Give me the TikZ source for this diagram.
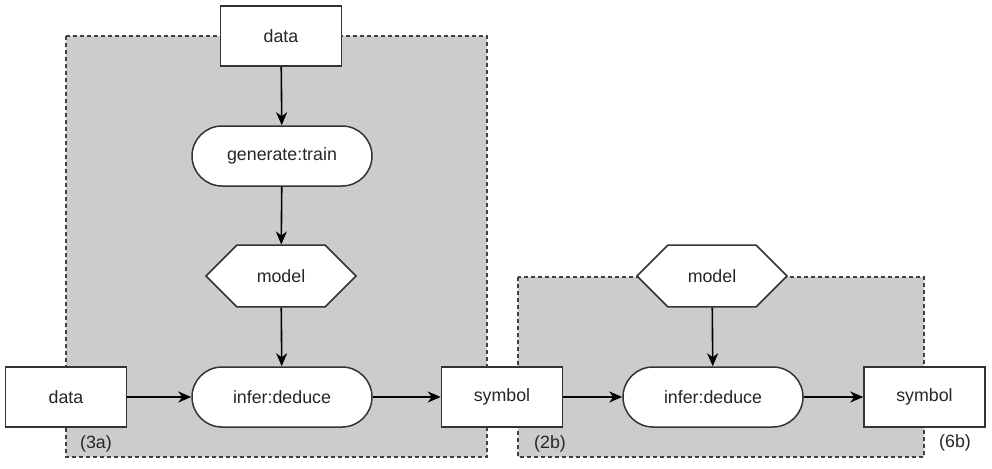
\documentclass[tikz,border=0pt]{standalone}
\usepackage{fontspec}
\setmainfont{Liberation Sans}
\usetikzlibrary{arrows.meta, positioning, shapes.misc}

\begin{document}
\begin{tikzpicture}[x=1pt, y=-1pt,
		every node/.style={font=\fontsize{17.8}{20}\selectfont, text=black!85},
		group/.style={draw=black!75, fill=black!20, dash pattern=on 4pt off 3pt, line width=1.3pt},
		blk/.style={draw=black!80, fill=white, line width=1.5pt, minimum width=121pt, minimum height=60pt, inner sep=0pt},
		proc/.style={blk, rounded corners=30pt, minimum width=180pt},
		mdl/.style={blk, chamfered rectangle, chamfered rectangle xsep=29pt, chamfered rectangle ysep=30pt, minimum width=150pt},
		flow/.style={draw=black, line width=1.6pt, -{Stealth[length=13pt, width=11pt, inset=4pt]}}]
		\useasboundingbox (0,0) rectangle (992,468);

		%groups:
		\draw[group] (66,36) rectangle (487,457);
		\draw[group] (518,277) rectangle (924,457);
		\node (tagA) at (96,444) {(3a)};
		\node (tagB) at (550,444) {(2b)};
		\node (tagC) at (955,443) {(6b)};

		%training part
		\node[blk] (dataT) at (281,36) {data};
		\node[proc] (train) at (282,156) {generate:train};
		\node[mdl] (modelA) at (281,276) {model};
		\node[proc] (inferA) at (282,397) {infer:deduce};
		\node[blk] (dataL) at (66,397) {data};
		\node[blk] (symA) at (502,397) {symbol};

		%deduction part
		\node[mdl] (modelB) at (712,276) {model};
		\node[proc] (inferB) at (713,397) {infer:deduce};
		\node[blk] (symB) at (924.5,397) {symbol};

		%arrows
		\draw[flow] (dataT) -- (train);
		\draw[flow] (train) -- (modelA);
		\draw[flow] (modelA) -- (inferA);
		\draw[flow] (dataL) -- (inferA);
		\draw[flow] (inferA) -- (symA);
		\draw[flow] (symA) -- (inferB);
		\draw[flow] (modelB) -- (inferB);
		\draw[flow] (inferB) -- (symB);
	\end{tikzpicture}
\end{document}
